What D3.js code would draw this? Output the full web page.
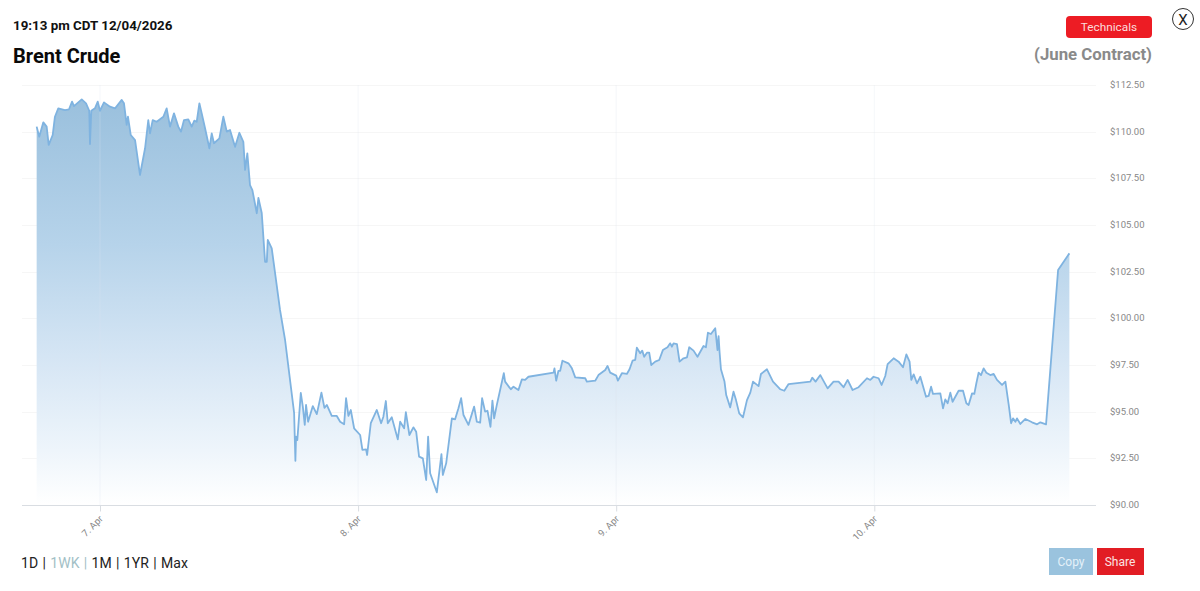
<!DOCTYPE html>
<html><head><meta charset="utf-8">
<script src="https://cdn.jsdelivr.net/npm/d3@7"></script>
<style>html,body{margin:0;padding:0;background:#fff;overflow:hidden}svg{display:block;font-family:Roboto,sans-serif}</style>
</head><body><svg id="c" width="1200" height="591"></svg>
<script>
// hours since 00:00 on 7 April
const hours=[-5.89,-5.65,-5.27,-4.96,-4.77,-4.40,-4.19,-3.88,-3.26,-2.88,-2.60,-2.42,-1.70,-1.30,-1.00,-0.93,-0.81,-0.47,-0.21,0,.37,.93,1.40,2.02,2.23,2.48,2.60,2.86,3.26,3.72,4.19,4.49,4.65,4.90,5.27,5.89,6.20,6.51,6.88,7.28,7.53,7.81,8.21,8.53,8.77,8.99,9.24,9.46,9.77,10.17,10.39,10.60,11.10,11.47,11.79,12.09,12.56,12.96,13.33,13.49,13.70,13.95,14.17,14.58,14.73,15.04,15.35,15.51,15.60,15.97,16.74,17.21,18.05,18.17,18.23,18.35,18.67,18.86,19.04,19.16,19.35,19.79,20.16,20.59,20.87,21.09,21.55,22.02,22.33,22.70,22.88,23.10,23.32,23.63,24.19,24.40,24.74,24.84,25.18,25.74,26.14,26.35,26.58,26.76,27.13,27.69,27.91,28.28,28.44,28.77,29.14,29.40,29.67,30.02,30.33,30.51,30.70,31.32,31.75,31.88,32.19,32.72,33.02,33.33,33.58,33.80,34.26,34.79,35.04,35.35,35.53,35.81,36.03,36.31,36.49,36.65,36.90,37.55,37.67,38.20,38.45,38.91,39.23,39.53,39.84,42.17,42.26,42.42,42.63,42.79,43.00,43.56,43.88,44.19,45.12,45.27,46.05,46.35,46.98,47.19,47.44,48.00,48.16,48.53,48.99,49.24,49.52,49.77,49.92,50.23,50.42,50.60,50.86,51.07,51.26,51.63,52.00,52.34,52.77,53.02,53.18,53.33,53.65,53.89,54.26,54.58,54.79,55.19,55.56,56.12,56.34,56.53,56.81,57.21,57.42,57.52,57.61,57.74,58.07,58.23,58.60,58.91,59.14,59.44,59.79,60.16,60.47,60.72,61.24,61.46,62.02,62.58,63.26,63.63,64.03,66.05,66.23,66.54,66.98,67.66,68.21,68.68,69.14,69.52,69.98,70.54,71.32,71.63,71.93,72.40,72.68,73.02,73.24,73.80,74.26,74.67,74.98,75.28,75.44,75.66,75.97,76.28,76.81,77.05,77.28,77.46,78.14,78.39,78.60,78.82,79.07,79.28,79.84,80.25,80.56,80.77,81.09,81.30,81.49,81.70,81.92,82.17,82.42,82.79,83.10,83.41,83.88,84.19,84.50,84.72,84.90,85.12,85.27,85.58,86.05,86.67,87.14,87.44,87.97,89.09,90.14];
const prices=[110.27,109.73,110.50,110.27,109.29,109.82,110.80,111.25,111.16,111.20,111.61,111.37,111.73,111.52,111.12,109.34,111.12,111.25,111.61,111.12,111.57,111.34,111.25,111.70,111.52,110.36,110.80,109.82,109.55,107.68,109.11,110.62,109.91,110.62,110.53,110.80,111.25,110.27,110.98,110.27,110.00,110.62,110.66,110.27,110.59,110.53,111.52,110.98,110.18,109.11,109.91,109.38,109.64,110.80,110.00,110.09,109.19,109.94,109.46,107.95,108.84,107.14,106.87,105.63,106.45,105.64,103.03,103.03,104.20,103.75,100.45,98.84,94.93,92.37,93.66,93.48,96.00,95.27,94.29,95.36,94.46,95.30,94.87,96.02,95.20,95.36,94.77,94.77,94.46,94.32,95.72,94.77,95.09,94.11,93.75,92.95,92.98,92.68,94.38,95.09,94.38,94.73,95.57,94.38,94.70,93.52,94.46,94.11,94.97,93.75,94.16,93.93,92.59,92.50,91.34,93.66,91.70,90.68,92.73,91.61,92.23,94.64,94.59,95.18,95.72,94.82,94.29,95.27,94.46,94.41,95.72,95.00,95.05,94.19,95.59,94.64,95.36,97.06,96.61,96.20,96.34,96.16,96.73,96.70,96.87,97.09,97.32,96.66,97.19,97.19,97.73,97.59,97.32,96.84,96.79,96.61,96.66,96.96,97.23,97.45,97.09,96.93,96.66,97.06,97.02,97.27,97.73,97.77,98.43,98.13,98.27,97.94,98.16,98.16,97.50,97.68,97.77,98.30,98.45,98.66,98.48,98.66,98.62,97.68,97.86,97.91,98.45,98.27,97.94,98.52,98.45,99.23,99.16,99.47,98.30,99.05,98.21,97.27,96.61,95.89,95.23,96.07,95.62,94.91,94.70,95.62,96.02,96.61,96.37,97.02,97.27,96.61,96.20,96.12,96.48,96.61,96.82,96.61,96.96,96.25,96.61,96.61,96.31,96.70,96.16,96.31,96.79,96.70,96.87,96.79,96.43,96.91,97.55,97.86,97.68,97.38,98.07,97.68,96.70,97.00,96.52,96.87,95.80,95.84,96.34,95.95,95.98,95.18,95.66,95.45,96.02,95.53,96.12,96.12,95.45,95.36,95.98,95.95,96.52,97.09,96.96,97.32,97.09,96.96,97.02,96.70,96.43,96.61,95.36,94.38,94.64,94.46,94.64,94.34,94.61,94.43,94.32,94.43,94.32,102.59,103.48];
const priceTicks=[90,92.5,95,97.5,100,102.5,105,107.5,110,112.5];
const dayTicks=[0,24,48,72];
const dayLabels=["7. Apr","8. Apr","9. Apr","10. Apr"];
const rangeLabels=["1D","1WK","1M","1YR","Max"];

const svg=d3.select("#c");
const x=d3.scaleLinear().domain([0,72]).range([100,874.3]);
const y=d3.scaleLinear().domain([90,112.5]).range([505,85]);
const L=22,R=1096;

const defs=svg.append("defs");
const g=defs.append("linearGradient").attr("id","fade").attr("x1",0).attr("x2",0).attr("y1",0).attr("y2",1)
  .attr("gradientUnits","objectBoundingBox");
[[0,"#9ac0dd"],[.35,"#b6d3ea"],[.65,"#d8e7f5"],[.85,"#eef5fb"],[.98,"#ffffff"],[1,"#ffffff"]].forEach(([o,c])=>g.append("stop").attr("offset",o).attr("stop-color",c));

// gridlines
svg.append("g").selectAll("line").data(priceTicks.slice(1)).join("line")
  .attr("x1",L).attr("x2",R).attr("y1",d=>Math.round(y(d))+.5).attr("y2",d=>Math.round(y(d))+.5)
  .attr("stroke","#f6f6f6");
const pts=hours.map((h,i)=>[h,prices[i]]);
svg.append("path").datum(pts).attr("fill","url(#fade)")
  .attr("d",d3.area().x(d=>x(d[0])).y0(y(89.6)).y1(d=>y(d[1])));
svg.append("g").selectAll("line").data(dayTicks).join("line")
  .attr("x1",d=>x(d)).attr("x2",d=>x(d)).attr("y1",85).attr("y2",505)
  .attr("stroke","#dfe6ee").attr("stroke-opacity",.3);
svg.append("path").datum(pts).attr("fill","none").attr("stroke","#7fb3e0").attr("stroke-width",1.8)
  .attr("stroke-linejoin","round")
  .attr("d",d3.line().x(d=>x(d[0])).y(d=>y(d[1])));

// x axis
const xa=svg.append("g").attr("transform","translate(0,505.5)")
  .call(d3.axisBottom(x).tickValues(dayTicks).tickFormat((d,i)=>dayLabels[i]).tickSize(6).tickSizeOuter(0));
xa.select(".domain").attr("d",`M${L},0H${R}`).attr("stroke","#d9dde2");
xa.selectAll("line").attr("stroke","#d9dde2");
xa.selectAll("text").attr("font-family","Roboto").attr("font-size",9.5).attr("fill","#888")
  .attr("text-anchor","end").attr("dy",0).attr("y",0)
  .attr("transform","translate(3,14) rotate(-45)");

// y axis labels
svg.append("g").selectAll("text").data(priceTicks).join("text")
  .attr("x",1110).attr("y",d=>y(d)+3).attr("font-size",9.5).attr("fill","#888")
  .text(d=>"$"+d.toFixed(2));

// header
svg.append("text").attr("x",13).attr("y",30).attr("font-size",13.35).attr("font-weight",700).attr("fill","#111").text("19:13 pm CDT 12/04/2026");
svg.append("text").attr("x",13).attr("y",63).attr("font-size",20).attr("font-weight",700).attr("fill","#0a0a0a").text("Brent Crude");
svg.append("text").attr("x",1152).attr("y",60).attr("text-anchor","end").attr("font-size",16.8).attr("font-weight",700).attr("fill","#8a8a8a").text("(June Contract)");
svg.append("rect").attr("x",1066).attr("y",16).attr("width",86).attr("height",22).attr("rx",4).attr("fill","#ed1c24");
svg.append("text").attr("x",1109).attr("y",31).attr("text-anchor","middle").attr("font-size",11.8).attr("fill","#fbdcdc").text("Technicals");
svg.append("circle").attr("cx",1183).attr("cy",19).attr("r",10.5).attr("fill","#fff").attr("stroke","#333");
svg.append("text").attr("x",1183).attr("y",24.5).attr("text-anchor","middle").attr("font-size",15).attr("fill","#222").text("X");

// range selector
const nav=svg.append("text").attr("x",21).attr("y",568).attr("font-size",14).attr("fill","#222").attr("letter-spacing",.1).attr("word-spacing",.65);
rangeLabels.forEach((r,i)=>{
  const muted=r==="1WK";
  nav.append("tspan").attr("fill",muted?"#a3bfc6":"#222").text(r);
  if(i<rangeLabels.length-1) nav.append("tspan").attr("fill",muted?"#a3bfc6":"#222").text(" | ");
});

// buttons
svg.append("rect").attr("x",1049).attr("y",548).attr("width",44).attr("height",27).attr("fill","#9ac3de");
svg.append("text").attr("x",1071).attr("y",566).attr("text-anchor","middle").attr("font-size",12).attr("fill","#e4f1f9").text("Copy");
svg.append("rect").attr("x",1097).attr("y",548).attr("width",47).attr("height",27).attr("fill","#e21d24");
svg.append("text").attr("x",1120).attr("y",566).attr("text-anchor","middle").attr("font-size",12).attr("fill","#fbe3e3").text("Share");
</script></body></html>
